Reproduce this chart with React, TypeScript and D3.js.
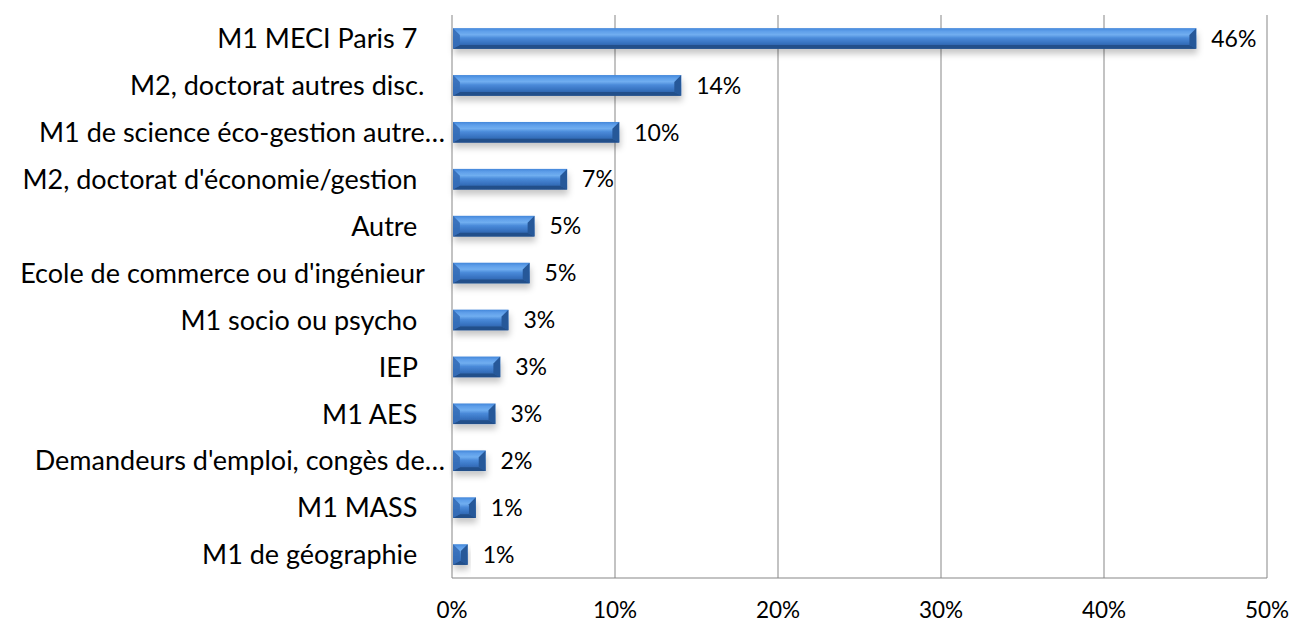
import { useEffect, useRef } from "react";
import * as d3 from "d3";

// categories (top to bottom), trailing spaces kept as in the source labels
const categories = [
  "M1 MECI Paris 7\u00a0\u00a0\u00a0\u00a0",
  "M2, doctorat autres disc.\u00a0\u00a0\u00a0",
  "M1 de science éco-gestion autre…",
  "M2, doctorat d'économie/gestion\u00a0\u00a0\u00a0\u00a0",
  "Autre\u00a0\u00a0\u00a0\u00a0",
  "Ecole de commerce ou d'ingénieur\u00a0\u00a0\u00a0",
  "M1 socio ou psycho\u00a0\u00a0\u00a0\u00a0",
  "IEP\u00a0\u00a0\u00a0\u00a0",
  "M1 AES\u00a0\u00a0\u00a0\u00a0",
  "Demandeurs d'emploi, congès de…",
  "M1 MASS\u00a0\u00a0\u00a0\u00a0",
  "M1 de géographie\u00a0\u00a0\u00a0\u00a0",
];

// share of students, in percent
const values = [45.6, 14.0, 10.2, 7.0, 5.0, 4.7, 3.4, 2.9, 2.6, 2.0, 1.4, 0.9];

const ticks = [0, 10, 20, 30, 40, 50];

const FONT = "Lato, 'Open Sans', sans-serif";

export default function App() {
  const svgRef = useRef<SVGSVGElement>(null);

  useEffect(() => {
    const width = 1293;
    const height = 623;
    const margin = { top: 15, right: 26, bottom: 45, left: 452 };

    const svg = d3.select(svgRef.current).attr("width", width).attr("height", height);
    svg.selectAll("*").remove();

    const defs = svg.append("defs");
    const grad = defs.append("linearGradient")
      .attr("id", "bar-face")
      .attr("x1", 0).attr("y1", 0).attr("x2", 0).attr("y2", 1);
    [
      ["0%", "#4387da"],
      ["15%", "#5f9fea"],
      ["32%", "#70aef0"],
      ["48%", "#4a8ad9"],
      ["72%", "#3772c0"],
      ["100%", "#285897"],
    ].forEach(([o, c]) => grad.append("stop").attr("offset", o).attr("stop-color", c));

    const shadow = defs.append("filter")
      .attr("id", "bar-shadow")
      .attr("x", "-10%").attr("y", "-30%").attr("width", "130%").attr("height", "200%");
    shadow.append("feDropShadow")
      .attr("dx", 1).attr("dy", 5).attr("stdDeviation", 3)
      .attr("flood-color", "#000").attr("flood-opacity", 0.22);

    const x = d3.scaleLinear()
      .domain([0, 50])
      .range([margin.left, width - margin.right]);

    const y = d3.scaleBand()
      .domain(categories)
      .range([margin.top, height - margin.bottom])
      .paddingInner(0.56)
      .paddingOuter(0.28);

    // gridlines
    svg.append("g")
      .selectAll("line")
      .data(ticks.slice(1))
      .join("line")
      .attr("x1", d => x(d)).attr("x2", d => x(d))
      .attr("y1", margin.top).attr("y2", height - margin.bottom)
      .attr("stroke", "#878787").attr("stroke-width", 1);

    // axis lines
    svg.append("line")
      .attr("x1", x(0)).attr("x2", x(0))
      .attr("y1", margin.top).attr("y2", height - margin.bottom)
      .attr("stroke", "#878787");
    svg.append("line")
      .attr("x1", x(0)).attr("x2", x(50))
      .attr("y1", height - margin.bottom).attr("y2", height - margin.bottom)
      .attr("stroke", "#878787");

    // tick labels
    svg.append("g")
      .selectAll("text")
      .data(ticks)
      .join("text")
      .attr("x", d => x(d))
      .attr("y", 618)
      .attr("text-anchor", "middle")
      .style("font-family", FONT)
      .style("font-size", "22.5px")
      .attr("fill", "#000")
      .text(d => d + "%");

    // category labels
    svg.append("g")
      .selectAll("text")
      .data(categories)
      .join("text")
      .attr("x", x(0) - 7)
      .attr("y", d => (y(d) as number) + y.bandwidth() / 2)
      .attr("dy", "0.36em")
      .attr("text-anchor", "end")
      .style("font-family", FONT)
      .style("font-size", "27px")
      .style("white-space", "pre")
      .attr("fill", "#000")
      .text(d => d);

    // bars with bevel
    const bars = svg.append("g")
      .selectAll("g.bar")
      .data(values)
      .join("g")
      .attr("class", "bar")
      .attr("filter", "url(#bar-shadow)");

    bars.each(function (v, i) {
      const g = d3.select(this);
      const x0 = x(0) + 1;
      const w = x(v) - x(0);
      const y0 = y(categories[i]) as number;
      const h = y.bandwidth();
      const b = Math.min(7, w / 2, h / 3);
      const x1 = x0 + w;
      const y1 = y0 + h;
      g.append("rect")
        .attr("x", x0).attr("y", y0).attr("width", w).attr("height", h)
        .attr("fill", "url(#bar-face)");
      const poly = (pts: number[][], fill: string, op = 1) =>
        g.append("polygon")
          .attr("points", pts.map(p => p.join(",")).join(" "))
          .attr("fill", fill).attr("opacity", op);
      poly([[x0, y1], [x1, y1], [x1 - b, y1 - b * 0.55], [x0 + b, y1 - b * 0.55]], "#234f8a");
      poly([[x0, y0], [x0 + b, y0 + b], [x0 + b, y1 - b * 0.55], [x0, y1]], "#356db7", 0.9);
      poly([[x1, y0], [x1 - b, y0 + b], [x1 - b, y1 - b * 0.55], [x1, y1]], "#275899");
    });

    // value labels
    svg.append("g")
      .selectAll("text")
      .data(values)
      .join("text")
      .attr("x", d => x(d) + 16)
      .attr("y", (d, i) => (y(categories[i]) as number) + y.bandwidth() / 2)
      .attr("dy", "0.36em")
      .style("font-family", FONT)
      .style("font-size", "23px")
      .attr("fill", "#000")
      .text(d => Math.round(d) + "%");
  }, []);

  return (
    <div style={{ position: "absolute", left: 0, top: 0 }}>
      <svg ref={svgRef}></svg>
    </div>
  );
}
